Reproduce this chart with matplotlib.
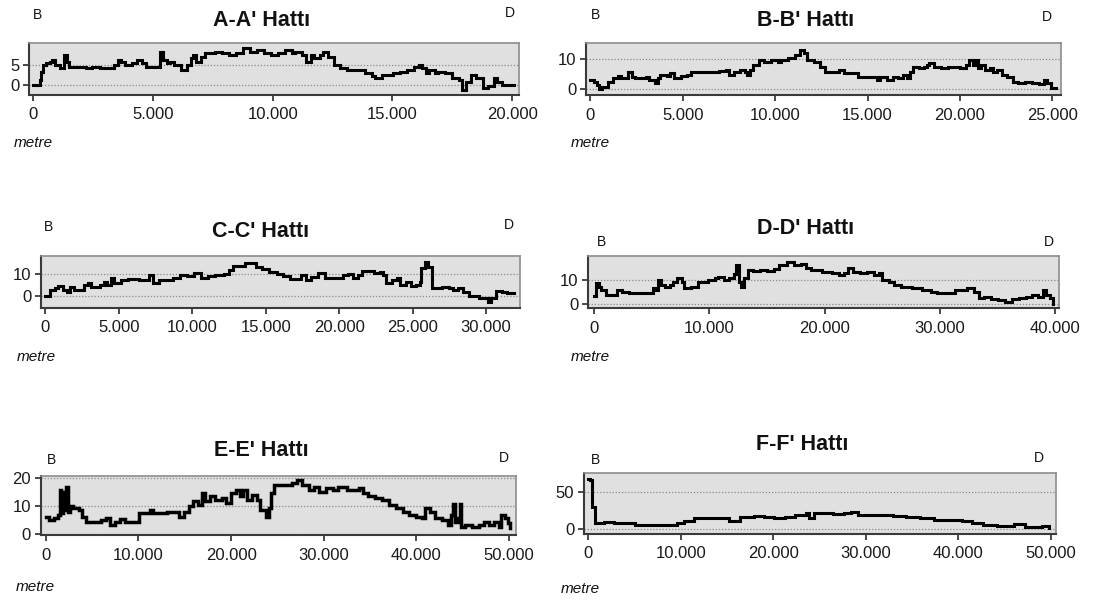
import matplotlib
matplotlib.use("Agg")
import matplotlib.pyplot as plt
from matplotlib.ticker import FuncFormatter, FixedLocator

plt.rcParams['font.family'] = ['Liberation Sans', 'DejaVu Sans']

# ---------------- data (distance in metres, value) ----------------
a_x = [0,190,260,330,410,550,700,770,920,1130,1280,1420,1500,1790,2220,2440,2800,3240,3390,3530,3680,3820,4110,4330,4550,4700,5130,5280,5420,5570,5710,5860,6150,6440,6580,6660,6800,7020,7170,7600,7890,8180,8480,8760,9060,9340,9640,9930,10220,10510,10800,10950,11240,11380,11600,11740,11960,12110,12330,12540,12830,13120,13560,13850,14140,14290,14580,15010,15300,15600,15890,16100,16250,16400,16540,16760,16900,17200,17490,17780,17920,18070,18290,18500,18720,18790,19010,19230,19370,19590,20100]
a_y = [0,0,1.2,3.3,5,5.4,5.8,6.2,5,4.2,7.5,5.8,4.6,4.6,4.2,4.6,4.2,4.2,5,6.2,5.8,5,5.4,6.2,5.4,4.6,4.6,8.3,6.2,5.4,5.8,5,3.8,5,6.7,7.5,5.8,7.1,7.9,8.3,7.9,7.5,7.9,9.2,8.3,8.8,7.9,7.5,7.9,8.8,7.9,8.3,7.5,5.8,7.5,6.7,7.5,8.3,7.1,5,4.2,3.8,3.8,2.9,2.1,1.7,2.5,2.9,3.3,3.8,4.6,5,4.2,2.9,3.8,2.9,3.3,2.9,1.7,1.2,-1.2,0.8,2.5,1.7,1.7,-0.8,-0.4,1.7,0.8,0,0]

b_x = [0,190,380,470,660,940,1220,1500,1690,1970,2070,2260,2440,2820,3010,3200,3480,3670,3760,4140,4320,4510,4890,5260,5450,5830,6200,6580,6950,7330,7520,7800,8080,8360,8460,8650,8830,9120,9400,9770,10150,10340,10710,11090,11370,11560,11750,12120,12410,12690,13160,13440,13720,14100,14470,14850,15320,15510,15700,16070,16350,16640,16920,17110,17290,17480,17760,18050,18230,18330,18610,18990,19360,19740,20020,20300,20490,20680,20860,20960,21150,21330,21620,21800,21990,22270,22560,22840,23120,23500,23870,24250,24530,24720,24910,25190]
b_y = [3.1,2.5,1.4,0,0.9,2.5,3.6,4.4,3.6,3.6,5.8,4.2,3.6,3.6,4.2,3.1,2,3.6,4.7,4.4,5.3,3.6,4.4,4.7,5.8,5.8,5.8,5.8,6.2,6.4,4.7,5.8,6.4,5.8,4.7,6.4,8,9.7,9.1,9.7,9.1,9.7,10.2,11.3,13,11.9,9.7,9.1,7.5,5.8,5.8,6.4,5.3,5.3,4.2,4.2,4.2,3.1,4.2,3.1,4.2,3.6,4.7,3.6,5.8,7.5,6.9,7.5,8,8.6,7.5,6.9,7.5,7.5,6.9,8,9.7,8,9.7,6.9,8,6.4,6.9,5.8,6.4,4.7,4.2,2.5,2,2.5,2,1.8,3.1,2,0.3,0.3]

c_x = [0,290,640,880,1240,1470,1710,1950,2310,2660,2900,3140,3490,3730,3970,4210,4450,4680,5160,5630,6350,6820,7060,7300,7770,8250,8720,9200,9670,10150,10620,11100,11580,12170,12530,12760,13240,13600,14070,14310,14780,15260,15740,16210,16690,17160,17400,17760,18110,18590,19060,19660,20250,20610,20960,21320,21560,21910,22390,22750,22990,23220,23580,23940,24170,24530,24890,25240,25480,25600,25840,26070,26310,26670,27020,27500,27740,28100,28450,28810,29280,29520,29880,30120,30350,30710,31060,31420,31900]
c_y = [0,2.8,3.5,4.6,2.8,2,4,2.8,2.8,5.1,6.2,4,4,5.1,6.6,5.1,8.2,6.2,7.4,7.8,7.4,7.4,9.7,5.8,7.4,7.4,8.2,9.7,9.2,10.8,8.2,9.2,9.7,10.2,12,13.8,13.8,15.4,15.1,13.5,12.3,11.2,10,9.2,7.7,7.7,9.7,7.4,8.9,10.5,8.2,8.2,9.7,10.2,8.2,9.7,11.5,11.5,10.5,11.2,9.7,5.8,7.4,8.2,5.1,6.6,4.6,5.1,6.6,12.8,15.8,13.5,3.5,3.5,4.3,3.8,2.8,3.5,2,0,0,-1.1,-1.1,-2.6,-1.1,2.5,2,1.2,1.2]

d_x = [0,150,450,600,1050,1500,1950,2400,2990,3590,4190,4790,5090,5390,5540,5840,6140,6590,6890,7190,7630,7780,8380,8980,9880,10480,10780,11230,11680,12130,12280,12570,12720,13020,13320,13770,14370,14970,15570,16020,16470,16770,17070,17370,17960,18410,18860,19760,20660,21260,21700,22000,22450,23050,23650,24250,24700,25000,25600,26050,26650,27540,28440,29190,29790,30540,31290,31740,32340,32930,33380,33830,34430,35030,35630,36230,36830,37430,38020,38470,38920,39220,39520,39820]
d_y = [3.4,8.6,7.3,5.9,3.8,3.8,5.9,5.2,4.8,4.8,4.5,4.8,6.6,5.9,10,7.9,7.3,7.9,9.3,10.7,9.3,6.6,7.3,9.3,10,10.7,11.4,10,10.7,12.6,16.2,9.3,7.3,10.7,14.1,13.7,14.1,13.7,14.4,16.2,16.2,17.5,17.5,16.2,16.8,14.8,14.1,13.4,12.7,12,12.7,14.8,13.4,12.7,13.4,12,12.7,10,9.3,7.9,7.3,6.6,5.9,5.2,4.5,4.5,5.9,5.9,6.6,5.2,2.5,3.2,2.1,1.8,1.1,2.1,2.5,3.2,3.8,3.2,5.9,3.8,2.5,0]

e_x = [0,370,930,1310,1490,1680,1870,2060,2240,2430,2620,2990,3550,3920,4300,5230,5980,6540,6910,7470,8040,8600,9530,10090,10840,11210,11590,12330,13080,13830,14390,14950,15510,15880,16440,16820,17190,17750,18310,19060,19430,19990,20550,20930,21300,21670,22240,22800,23170,23740,24110,24290,24670,25790,26530,27090,27650,28400,28960,29520,30270,31020,31580,32510,33260,33820,34190,34750,35500,36250,36990,37740,38490,39230,39980,40540,40920,41480,42040,42790,43350,43720,43910,44100,44470,44660,44840,45220,45960,46710,47270,47830,48390,48950,49140,49510,49890,50070]
e_y = [6.3,5.1,5.7,6.9,15.8,7.5,15.2,8.7,17,8.1,9.9,9.3,8.7,6.3,4.5,4.5,5.1,5.7,3.3,4.5,5.4,4.5,4.2,7.5,7.5,8.7,7.5,7.7,8.1,8.1,6.3,8.1,9.9,11.7,10.5,14.6,11.7,13.5,12.3,12.9,11.1,14.6,15.8,13.5,15.8,12.3,14.1,12.3,8.7,6.3,9.3,14.6,17.6,17.6,18.2,19.4,17.6,15.8,17,15.2,16.4,15.8,17,15.8,15.8,16.4,14.6,13.5,12.9,12.3,10.5,9.3,8.1,6.9,6.3,5.7,9.3,8.1,5.7,5.1,3.3,6.9,10.7,4.5,5.7,10.7,2.7,3.3,2.7,3.3,4.5,3.3,4.5,2.7,6.9,5.7,3.9,2.1]

f_x = [0,190,380,750,1690,2820,3950,5080,6580,8080,9590,10340,11470,12600,14100,15230,16350,17860,18980,20110,21240,22370,23500,23870,24440,25380,26500,27630,28380,29140,31020,32890,34400,35900,37410,38910,40410,41540,42670,44170,45300,46050,47180,48310,49060,49810]
f_y = [68,66,30,8,10,8,8,5.8,5.8,5.8,8,11.6,14.7,14.7,14.7,11.6,16,17.9,16,14.7,16,19.2,21.4,14.7,21.4,21.4,20.5,21.4,23.7,19.2,19.2,17.9,16,14.7,12.5,12.5,11.6,8,5.8,4.5,4.5,7.1,2.7,3.6,4.5,1.3]

titles = ["A-A' Hattı", "B-B' Hattı", "C-C' Hattı", "D-D' Hattı", "E-E' Hattı", "F-F' Hattı"]
x_ticks = [[0, 5000, 10000, 15000, 20000],
           [0, 5000, 10000, 15000, 20000, 25000],
           [0, 5000, 10000, 15000, 20000, 25000, 30000],
           [0, 10000, 20000, 30000, 40000],
           [0, 10000, 20000, 30000, 40000, 50000],
           [0, 10000, 20000, 30000, 40000, 50000]]
y_ticks = [[0, 5], [0, 10], [0, 10], [0, 10], [0, 10, 20], [0, 50]]
series = [(a_x, a_y), (b_x, b_y), (c_x, c_y), (d_x, d_y), (e_x, e_y), (f_x, f_y)]
left_lbl, right_lbl, unit_lbl = "B", "D", "metre"

# ---------------- layout (pixels) ----------------
W, H = 1094, 601
# box: left, right, top, bottom
boxes = [(29.3, 519, 43.3, 94.5), (586, 1060.5, 43.3, 95),
         (41, 519.6, 255.7, 308), (588.3, 1059.4, 256, 308.3),
         (40.7, 515.5, 475.7, 535.3), (584, 1056, 472.7, 534)]
xlims = [(-167, 20288), (-227, 25435), (-290, 32285), (-497, 40365), (-540, 50680), (-476, 50573)]
ylims = [(-2.4, 10.4), (-1.9, 15.2), (-5.5, 18.6), (-1.65, 19.9), (-0.4, 20.9), (-6.3, 75.9)]
title_pos = [(262, 20.7), (806, 20), (261, 231.7), (806, 228.3), (261, 450), (802, 445)]
b_pos = [(37, 15), (595, 15), (48.7, 226.7), (601.7, 242), (52, 460), (595, 460)]
d_pos = [(510, 13), (1047, 17.3), (509, 225), (1049, 241.7), (504, 458.3), (1038.6, 458.3)]
metre_pos = [(33, 143), (590, 143), (36, 357), (590, 357), (35, 587), (580, 589)]

fig = plt.figure(figsize=(W / 100, H / 100), dpi=100)
fig.patch.set_facecolor('white')

fmt = FuncFormatter(lambda v, _: f"{int(round(v)):,}".replace(",", "."))

for i, (xs, ys) in enumerate(series):
    L, R, T, B = boxes[i]
    ax = fig.add_axes([L / W, 1 - B / H, (R - L) / W, (B - T) / H])
    ax.set_facecolor('#e0e0e0')
    ax.plot(xs, ys, color='black', lw=2.2 if i != 4 else 2.5,
            drawstyle='steps-post', solid_joinstyle='miter')
    ax.set_xlim(*xlims[i])
    ax.set_ylim(*ylims[i])
    ax.xaxis.set_major_locator(FixedLocator(x_ticks[i]))
    ax.xaxis.set_major_formatter(fmt)
    ax.yaxis.set_major_locator(FixedLocator(y_ticks[i]))
    ax.yaxis.set_major_formatter(fmt)
    for yv in y_ticks[i]:
        ax.axhline(yv, color='#8a8a8a', lw=0.9, ls=(0, (1, 1.5)), zorder=1)
    for s in ('top', 'right'):
        ax.spines[s].set_color('#8c8c8c')
        ax.spines[s].set_linewidth(1.2)
    for s in ('left', 'bottom'):
        ax.spines[s].set_color('#3a3a3a')
        ax.spines[s].set_linewidth(1.5)
    ax.tick_params(axis='x', direction='out', length=4, width=1.3, color='#3a3a3a',
                   labelsize=12, pad=5, labelcolor='#1a1a1a')
    ax.tick_params(axis='y', direction='out', length=4, width=1.3, color='#3a3a3a',
                   labelsize=12, pad=3, labelcolor='#1a1a1a')

    tx, ty = title_pos[i]
    fig.text(tx / W, 1 - ty / H, titles[i], ha='center', va='center',
             fontsize=15.5, fontweight='bold', color='#111111')
    bx, by = b_pos[i]
    fig.text(bx / W, 1 - by / H, left_lbl, ha='center', va='center', fontsize=10, color='#111111')
    dx, dy = d_pos[i]
    fig.text(dx / W, 1 - dy / H, right_lbl, ha='center', va='center', fontsize=10, color='#111111')
    mx, my = metre_pos[i]
    fig.text(mx / W, 1 - my / H, unit_lbl, ha='center', va='center', fontsize=11,
             style='italic', color='#111111')

fig.savefig('out.png', dpi=100, facecolor='white')
